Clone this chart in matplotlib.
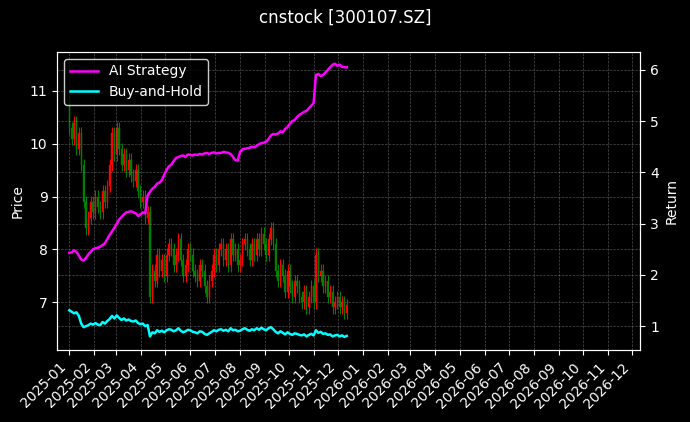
import matplotlib
matplotlib.use("Agg")
import matplotlib.pyplot as plt
import matplotlib.dates as mdates
import numpy as np
import pandas as pd

# closes sampled roughly every 2 trading days, 2025-01-02 .. 2025-12-12
close = [10.3, 10.1, 10.4, 9.9, 10.2, 9.6, 8.9, 8.4, 8.6, 8.9, 8.7,
         9.0, 8.8, 8.7, 9.1, 8.9, 9.2, 9.6, 10.2, 9.8, 10.3,
         9.9, 9.6, 9.8, 9.5, 9.7, 9.4, 9.3, 9.5, 9.1, 8.9, 9.0,
         8.6, 8.7, 7.1, 7.6, 7.4, 7.9, 7.6, 7.8, 7.5, 7.9, 8.1,
         8.0, 7.7, 7.9, 8.2, 7.8, 7.5, 7.7, 8.0, 7.9, 7.6,
         7.5, 7.4, 7.7, 7.6, 7.3, 7.1, 7.4, 7.6, 7.9, 7.7, 8.0,
         8.1, 7.8, 8.0, 7.7, 8.2, 7.9, 8.0, 7.7, 7.8, 8.1, 8.2,
         8.0, 7.8, 8.1, 7.9, 8.2, 8.0, 8.3, 8.1, 7.9, 8.2,
         8.4, 8.1, 7.6, 7.4, 7.7, 7.5, 7.2, 7.6, 7.3, 7.1, 7.4,
         7.3, 7.1, 7.0, 7.2, 6.9, 7.1, 7.3, 7.0,
         7.9, 7.5, 7.6, 7.3, 7.4, 7.1, 7.2, 6.9, 7.0, 7.1,
         6.9, 7.0, 6.8, 6.95]
open_ = [10.9] + close[:-1]

ai_return = [2.43, 2.44, 2.48, 2.45, 2.38, 2.30, 2.28, 2.33, 2.40, 2.45, 2.50,
             2.52, 2.53, 2.55, 2.58, 2.62, 2.70, 2.78, 2.85, 2.92, 3.00,
             3.08, 3.13, 3.18, 3.22, 3.23, 3.24, 3.22, 3.20, 3.15, 3.18, 3.22,
             3.20, 3.55, 3.62, 3.68, 3.72, 3.78, 3.80, 3.85, 3.95, 4.05, 4.12,
             4.15, 4.22, 4.28, 4.30, 4.32, 4.33, 4.30, 4.35, 4.34, 4.33,
             4.35, 4.34, 4.36, 4.35, 4.37, 4.38, 4.36, 4.38, 4.39, 4.37, 4.38,
             4.38, 4.40, 4.39, 4.38, 4.36, 4.30, 4.24, 4.23, 4.40, 4.45, 4.46,
             4.47, 4.48, 4.50, 4.49, 4.52, 4.55, 4.57, 4.58, 4.60, 4.65,
             4.72, 4.75, 4.74, 4.76, 4.80, 4.78, 4.85, 4.88, 4.95, 5.00, 5.02,
             5.08, 5.12, 5.15, 5.18, 5.20, 5.25, 5.30, 5.35,
             5.90, 5.92, 5.88, 5.90, 5.95, 6.00, 6.05, 6.10, 6.12, 6.08,
             6.10, 6.06, 6.05, 6.05]

bh_return = [1.31, 1.28, 1.25, 1.27, 1.20, 1.05, 0.98, 1.00, 1.02, 1.05, 1.03,
             1.06, 1.03, 1.02, 1.08, 1.05, 1.10, 1.14, 1.20, 1.15, 1.21,
             1.16, 1.12, 1.15, 1.11, 1.13, 1.10, 1.09, 1.11, 1.06, 1.04, 1.05,
             1.00, 1.02, 0.80, 0.88, 0.86, 0.92, 0.89, 0.91, 0.88, 0.92, 0.94,
             0.93, 0.90, 0.92, 0.96, 0.91, 0.88, 0.90, 0.93, 0.92, 0.89,
             0.88, 0.86, 0.90, 0.89, 0.85, 0.83, 0.86, 0.89, 0.92, 0.90, 0.93,
             0.94, 0.91, 0.93, 0.90, 0.96, 0.92, 0.93, 0.90, 0.91, 0.94, 0.96,
             0.93, 0.91, 0.94, 0.92, 0.96, 0.93, 0.97, 0.94, 0.92, 0.96,
             0.98, 0.94, 0.89, 0.86, 0.90, 0.87, 0.84, 0.88, 0.85, 0.83, 0.86,
             0.85, 0.83, 0.82, 0.84, 0.80, 0.83, 0.85, 0.82,
             0.92, 0.87, 0.89, 0.85, 0.86, 0.83, 0.84, 0.80, 0.82, 0.83,
             0.80, 0.82, 0.79, 0.81]

start, end = pd.Timestamp("2025-01-02"), pd.Timestamp("2025-12-12")
dates = pd.to_datetime(np.linspace(start.value, end.value, len(close)))

plt.style.use("dark_background")
fig, ax = plt.subplots(figsize=(6.9, 4.22), dpi=100)
fig.patch.set_facecolor("black")
ax.set_facecolor("black")

# candles
wick = 0.12
for d, o, c in zip(dates, open_, close):
    col = "red" if c >= o else "green"
    ax.vlines(d, min(o, c) - wick, max(o, c) + wick, color=col, linewidth=0.8)
    ax.bar(d, abs(c - o) if c != o else 0.02, bottom=min(o, c), width=1.7,
           color=col, edgecolor=col, linewidth=0.3)

ax.set_ylabel("Price")
ax.set_ylim(6.09, 11.74)
ax.grid(True, color="gray", linestyle="--", linewidth=0.5, alpha=0.6)

ax2 = ax.twinx()
ax2.plot(dates, ai_return, color="magenta", linewidth=1.8, label="AI Strategy")
ax2.plot(dates, bh_return, color="cyan", linewidth=1.8, label="Buy-and-Hold")
ax2.set_ylabel("Return")
ax2.set_ylim(0.53, 6.35)
ax2.grid(True, axis="y", color="gray", linestyle="--", linewidth=0.5, alpha=0.6)
ax2.legend(loc="upper left", facecolor="black", edgecolor="white")

ax.set_xlim(pd.Timestamp("2024-12-18"), pd.Timestamp("2026-12-11"))
ax.xaxis.set_major_locator(mdates.MonthLocator())
ax.xaxis.set_major_formatter(mdates.DateFormatter("%Y-%m"))
plt.setp(ax.get_xticklabels(), rotation=45, ha="right")

fig.suptitle("cnstock [300107.SZ]")
fig.subplots_adjust(left=0.083, right=0.928, top=0.877, bottom=0.17)
fig.savefig("out.png", dpi=100, facecolor="black")
